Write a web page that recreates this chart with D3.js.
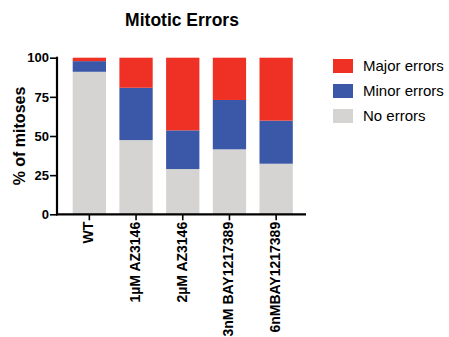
<!DOCTYPE html>
<html><head><meta charset="utf-8">
<script src="https://cdn.jsdelivr.net/npm/d3@7"></script>
<style>body{margin:0;background:#fff}svg{display:block}text{font-family:"Liberation Sans",Arial,sans-serif}</style>
</head><body>
<svg id="c" width="449" height="337"></svg>
<script>
const categories = ["WT","1µM AZ3146","2µM AZ3146","3nM BAY1217389","6nMBAY1217389"];
const noErrors = [91.0, 47.4, 28.9, 41.5, 32.3];
const minorErrors = [6.8, 33.4, 24.7, 31.5, 27.5];
const majorErrors = [2.2, 19.2, 46.4, 27.0, 40.2];
const seriesNames = ["No errors","Minor errors","Major errors"];
const seriesColors = ["#D5D4D3","#3B57A7","#EE3124"];
const yTicks = [0,25,50,75,100];

const svg = d3.select("#c");
const x = d3.scaleBand().domain(categories).range([66, 299.5]).paddingInner(0.287).paddingOuter(0.1435);
const y = d3.scaleLinear().domain([0,100]).range([214.3, 57.7]);

const rows = categories.map((c,i)=>({cat:c, "No errors":noErrors[i], "Minor errors":minorErrors[i], "Major errors":majorErrors[i]}));
const stack = d3.stack().keys(seriesNames)(rows);

svg.append("g").selectAll("g").data(stack).join("g")
  .attr("fill",(d,i)=>seriesColors[i])
  .selectAll("rect").data(d=>d).join("rect")
  .attr("x",d=>x(d.data.cat)).attr("width",x.bandwidth())
  .attr("y",d=>y(d[1])).attr("height",d=>y(d[0])-y(d[1]));

// y axis
const ya = svg.append("g").attr("transform","translate(57,0)")
  .call(d3.axisLeft(y).tickValues(yTicks).tickSize(7).tickPadding(1).tickSizeOuter(0));
ya.select(".domain").remove();
ya.selectAll(".tick line").attr("stroke","#000").attr("stroke-width",1.6);
ya.selectAll(".tick text").attr("font-size",13).attr("font-weight","bold").attr("fill","#000")
  .attr("font-family","Liberation Sans, Arial, sans-serif");
svg.append("line").attr("x1",57).attr("x2",57).attr("y1",y(100)-1).attr("y2",y(0)+1).attr("stroke","#000").attr("stroke-width",2.2);

// x axis
const xa = svg.append("g").attr("transform",`translate(0,${y(0)})`)
  .call(d3.axisBottom(x).tickSize(6).tickSizeOuter(0));
xa.select(".domain").remove();
xa.selectAll(".tick line").attr("stroke","#000").attr("stroke-width",1.6);
xa.selectAll(".tick text")
  .attr("font-size",14).attr("font-weight","bold").attr("fill","#000")
  .attr("font-family","Liberation Sans, Arial, sans-serif")
  .attr("text-anchor","end")
  .attr("transform","translate(0,7.5) rotate(-90)")
  .attr("x",0).attr("y",0).attr("dy",4).attr("dx",0);
svg.append("line").attr("x1",56).attr("x2",306).attr("y1",y(0)).attr("y2",y(0)).attr("stroke","#000").attr("stroke-width",2.2);

// title
svg.append("text").attr("x",182).attr("y",26).attr("text-anchor","middle")
  .attr("font-size",17.5).attr("font-weight","bold").text("Mitotic Errors");

// y label
svg.append("text").attr("transform",`translate(25,${(y(0)+y(100))/2}) rotate(-90)`)
  .attr("text-anchor","middle").attr("font-size",16).attr("font-weight","bold").text("% of mitoses");

// legend
const legendOrder = [2,1,0];
const lg = svg.append("g").selectAll("g").data(legendOrder).join("g")
  .attr("transform",(d,i)=>`translate(333,${59+i*25})`);
lg.append("rect").attr("width",20).attr("height",14).attr("fill",d=>seriesColors[d]);
lg.append("text").attr("x",30).attr("y",12.3).attr("font-size",15).attr("fill","#000").text(d=>seriesNames[d]);
</script>
</body></html>
